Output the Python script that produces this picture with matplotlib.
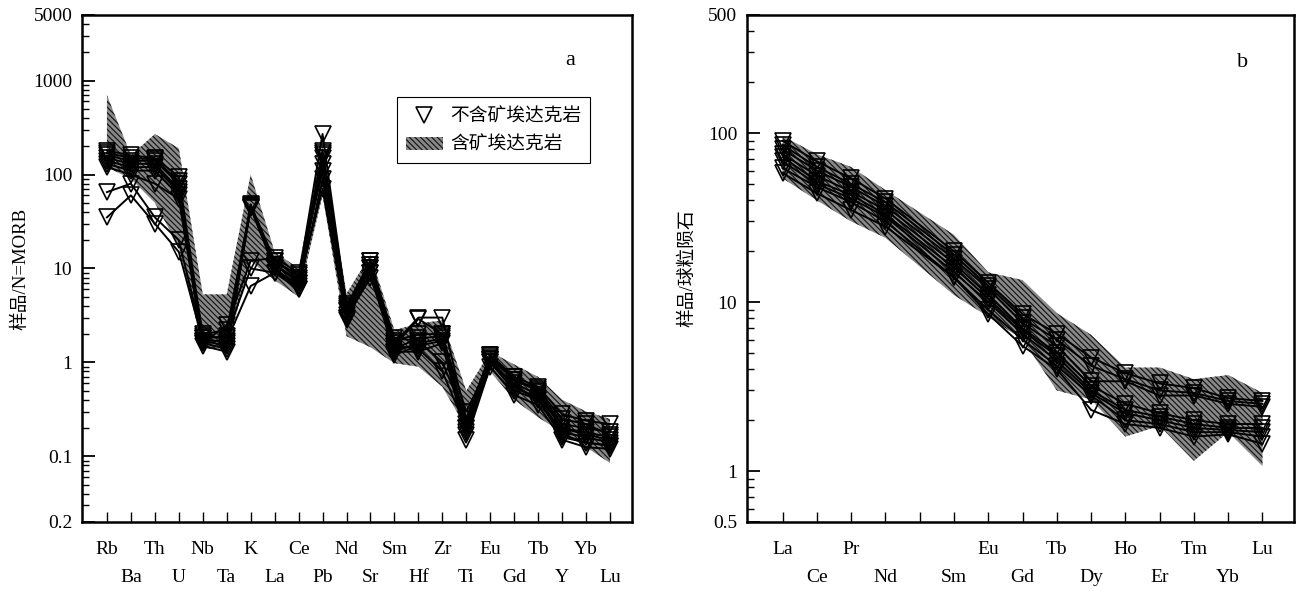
import matplotlib
matplotlib.use('Agg')
import matplotlib.pyplot as plt
from matplotlib.patches import Patch
from matplotlib.lines import Line2D
from matplotlib.ticker import FixedLocator, LogLocator, NullFormatter

plt.rcParams['font.family'] = ['Liberation Serif', 'Noto Sans CJK SC']
plt.rcParams['hatch.linewidth'] = 0.9

# ---- panel a: N-MORB normalised spider diagram ----
spider_elements = ['Rb', 'Ba', 'Th', 'U', 'Nb', 'Ta', 'K', 'La', 'Ce', 'Pb', 'Nd',
                   'Sr', 'Sm', 'Hf', 'Zr', 'Ti', 'Eu', 'Gd', 'Tb', 'Y', 'Yb', 'Lu']

# barren adakite samples (open triangles)
spider_samples = [
    [180, 160, 150, 95, 1.9, 1.8, 48, 12, 8.0, 270, 4.0, 12, 1.6, 3.0, 3.0, 0.25, 1.20, 0.70, 0.55, 0.28, 0.24, 0.22],
    [170, 150, 145, 85, 1.8, 1.6, 47, 11, 7.5, 180, 3.5, 11, 1.5, 2.9, 2.0, 0.22, 1.10, 0.65, 0.50, 0.22, 0.20, 0.18],
    [160, 140, 140, 80, 1.7, 1.5, 46, 11, 7.0, 170, 3.8, 12, 1.7, 2.0, 2.0, 0.20, 1.15, 0.70, 0.48, 0.20, 0.18, 0.16],
    [150, 130, 130, 70, 1.6, 1.4, 45, 10, 6.5, 160, 3.2, 10, 1.4, 1.8, 1.9, 0.30, 1.00, 0.60, 0.45, 0.20, 0.17, 0.15],
    [140, 120, 120, 65, 1.5, 1.3, 44, 10, 6.0, 150, 3.0, 10, 1.3, 1.6, 1.8, 0.18, 1.05, 0.55, 0.42, 0.18, 0.16, 0.14],
    [130, 110, 110, 60, 2.0, 2.2, 45, 12, 8.5, 130, 3.6, 11, 1.8, 1.7, 1.0, 0.25, 1.20, 0.65, 0.52, 0.25, 0.22, 0.17],
    [120, 100, 80, 55, 1.6, 2.5, 12, 13, 9.0, 110, 4.2, 9, 1.2, 1.5, 1.7, 0.17, 1.00, 0.50, 0.40, 0.17, 0.14, 0.13],
    [65, 80, 35, 20, 1.8, 1.9, 10, 9, 6.0, 90, 3.0, 8, 1.5, 1.4, 0.8, 0.20, 1.10, 0.55, 0.40, 0.16, 0.14, 0.13],
    [35, 60, 30, 15, 1.7, 1.7, 6.5, 9, 7.0, 70, 2.8, 9, 1.3, 1.3, 1.6, 0.15, 0.90, 0.45, 0.35, 0.15, 0.125, 0.12],
]

# ore-bearing adakite field (hatched band)
spider_band_hi = [700, 160, 270, 190, 5.3, 5.3, 100, 15, 10, 210, 5.4, 14, 2.2, 2.6, 2.8, 0.5,
                  1.3, 0.95, 0.7, 0.4, 0.3, 0.25]
spider_band_lo = [120, 90, 50, 17, 1.4, 1.4, 12, 7.5, 5.0, 60, 1.9, 1.45, 0.98, 0.9, 0.55, 0.2,
                  0.8, 0.4, 0.26, 0.18, 0.125, 0.085]

# ---- panel b: chondrite normalised REE ----
ree_elements = ['La', 'Ce', 'Pr', 'Nd', 'Pm', 'Sm', 'Eu', 'Gd', 'Tb', 'Dy', 'Ho', 'Er', 'Tm', 'Yb', 'Lu']
ree_plotted = ['La', 'Ce', 'Pr', 'Nd', 'Sm', 'Eu', 'Gd', 'Tb', 'Dy', 'Ho', 'Er', 'Tm', 'Yb', 'Lu']

ree_samples = [
    [90, 68, 54, 41, 20, 13.0, 8.5, 6.5, 4.7, 3.8, 3.3, 3.1, 2.7, 2.6],
    [85, 63, 50, 39, 19, 12.5, 8.0, 6.0, 4.2, 3.5, 3.0, 2.9, 2.6, 2.5],
    [80, 60, 48, 37, 18, 12.0, 7.5, 5.5, 3.4, 3.4, 2.8, 2.8, 2.5, 2.4],
    [75, 56, 45, 35, 17, 11.0, 7.0, 5.0, 3.2, 2.5, 2.2, 2.0, 1.9, 1.9],
    [72, 52, 43, 33, 16, 10.5, 6.8, 4.8, 3.0, 2.3, 2.1, 1.9, 1.8, 1.8],
    [68, 50, 41, 32, 15, 10.0, 6.5, 4.5, 2.9, 2.2, 2.0, 1.8, 1.75, 1.7],
    [62, 48, 39, 30, 14, 9.0, 6.0, 4.2, 2.8, 2.0, 1.9, 1.7, 1.7, 1.6],
    [58, 44, 35, 28, 14, 8.5, 5.5, 4.0, 2.3, 1.9, 1.8, 1.6, 1.65, 1.45],
]

ree_band_hi = [96, 75, 63, 46, 25, 15, 13.5, 8.6, 6.4, 4.1, 4.1, 3.5, 3.7, 2.9]
ree_band_lo = [54, 40, 30, 24, 11, 8.2, 6.0, 3.0, 2.65, 1.6, 1.85, 1.15, 1.7, 1.07]

legend_labels = ['不含矿埃达克岩', '含矿埃达克岩']

band_style = dict(facecolor='#8a8a8a', edgecolor='#1a1a1a', hatch='\\\\\\\\\\\\', linewidth=0)
sample_style = dict(color='black', lw=1.4, marker='v', ms=11, mfc='none', mec='black', mew=1.2)


def style_axes(ax, names, y_major, y_labels, ylim):
    n = len(names)
    ax.set_yscale('log')
    ax.set_ylim(*ylim)
    ax.set_xlim(-1.04, n - 1 + 0.92)
    ax.yaxis.set_major_locator(FixedLocator(y_major))
    ax.set_yticklabels(y_labels)
    ax.yaxis.set_minor_locator(LogLocator(base=10, subs=range(2, 10)))
    ax.yaxis.set_minor_formatter(NullFormatter())
    ax.tick_params(axis='y', which='major', direction='in', length=9, width=1.3,
                   pad=7, labelsize=14)
    ax.tick_params(axis='y', which='minor', direction='in', length=5, width=1)
    # two rows of element labels: even positions on top row, odd on lower row
    even = list(range(0, n, 2))
    odd = list(range(1, n, 2))
    ax.set_xticks(even, labels=[names[i] if names[i] != 'Pm' else '' for i in even])
    ax.set_xticks(odd, labels=[names[i] for i in odd], minor=True)
    ax.tick_params(axis='x', which='both', direction='in', length=7, width=1, labelsize=14)
    ax.tick_params(axis='x', which='major', pad=14)
    ax.tick_params(axis='x', which='minor', pad=34)
    for s in ax.spines.values():
        s.set_linewidth(1.8)


fig = plt.figure(figsize=(13, 5.91), dpi=100)
ax1 = fig.add_axes([0.0631, 0.1168, 0.4231, 0.8579])
ax2 = fig.add_axes([0.5746, 0.1168, 0.4208, 0.8579])

# panel a
xa = list(range(len(spider_elements)))
ax1.fill_between(xa, spider_band_lo, spider_band_hi, zorder=1, **band_style)
for vals in spider_samples:
    ax1.plot(xa, vals, zorder=3, **sample_style)
style_axes(ax1, spider_elements, [0.02, 0.1, 1, 10, 100, 1000, 5000],
           ['0.2', '0.1', '1', '10', '100', '1000', '5000'], (0.02, 5000))
ax1.set_ylabel('样品/N=MORB', fontsize=13.5, labelpad=3)
ax1.text(0.887, 0.911, 'a', transform=ax1.transAxes, fontsize=16, ha='center', va='center')

handles = [Line2D([], [], ls='none', marker='v', ms=11, mfc='none', mec='black', mew=1.2),
           Patch(**band_style)]
leg = ax1.legend(handles, legend_labels, loc='upper left', bbox_to_anchor=(0.573, 0.838),
                 borderaxespad=0, fancybox=False, edgecolor='black', framealpha=1,
                 prop={'family': ['Noto Sans CJK SC'], 'size': 13.5},
                 handlelength=2.0, borderpad=0.45, labelspacing=0.4, handletextpad=0.4)
leg.get_frame().set_linewidth(0.8)

# panel b
xb = [ree_elements.index(e) for e in ree_plotted]
ax2.fill_between(xb, ree_band_lo, ree_band_hi, zorder=1, **band_style)
for vals in ree_samples:
    ax2.plot(xb, vals, zorder=3, **sample_style)
style_axes(ax2, ree_elements, [0.5, 1, 10, 100, 500],
           ['0.5', '1', '10', '100', '500'], (0.5, 500))
ax2.set_ylabel('样品/球粒陨石', fontsize=13.5, labelpad=8)
ax2.text(0.905, 0.907, 'b', transform=ax2.transAxes, fontsize=16, ha='center', va='center')

plt.savefig('out.png', dpi=100)
